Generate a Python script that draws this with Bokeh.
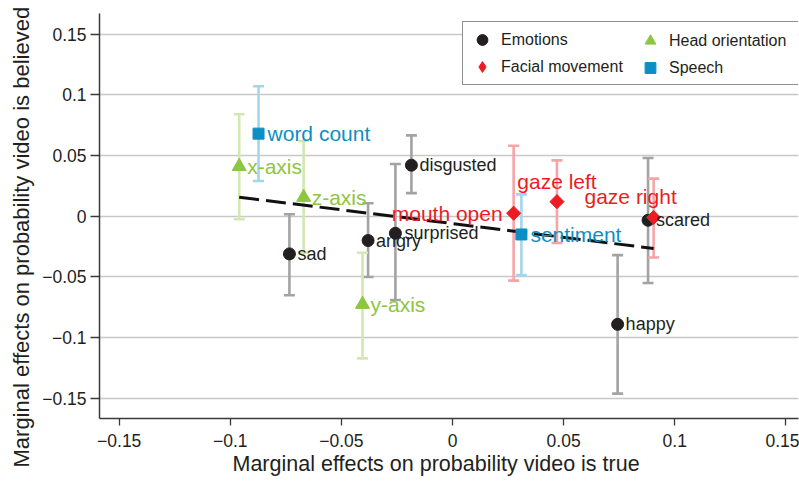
import numpy as np
from bokeh.plotting import figure
from bokeh.models import (ColumnDataSource, Whisker, TeeHead, FixedTicker, CustomJSTickFormatter,
                          Legend, LegendItem, Title)
from bokeh.core.properties import value
from bokeh.embed import file_html
from bokeh.resources import INLINE

# ---------------- data ----------------
emo_names = ["sad", "angry", "surprised", "disgusted", "happy", "scared"]
emo_true = [-0.0734, -0.038, -0.0257, -0.0185, 0.0743, 0.088]
emo_believed = [-0.031, -0.020, -0.014, 0.042, -0.089, -0.0033]
emo_lo = [-0.065, -0.050, -0.069, 0.019, -0.146, -0.055]
emo_hi = [0.0016, 0.0107, 0.043, 0.0666, -0.032, 0.048]

fac_names = ["mouth open", "gaze left", "gaze right"]
fac_true = [0.0275, 0.047, 0.0905]
fac_believed = [0.0025, 0.012, -0.001]
fac_lo = [-0.053, -0.022, -0.034]
fac_hi = [0.058, 0.046, 0.031]

head_names = ["x-axis", "z-axis", "y-axis"]
head_true = [-0.096, -0.067, -0.0405]
head_believed = [0.041, 0.0156, -0.0725]
head_lo = [-0.0025, -0.030, -0.117]
head_hi = [0.084, 0.062, -0.030]

sp_names = ["word count", "sentiment"]
sp_true = [-0.0873, 0.031]
sp_believed = [0.068, -0.015]
sp_lo = [0.029, -0.0485]
sp_hi = [0.107, 0.018]

ticks = [-0.15, -0.1, -0.05, 0, 0.05, 0.1, 0.15]
x_title = "Marginal effects on probability video is true"
y_title = "Marginal effects on probability video is believed"

# label placement (styles, pixels)
emo_dx = [8, 8, 9, 8, 8, 8]; emo_dy = [0, 0, 0, 0, 0, 0]; emo_align = ["left"] * 6
fac_dx = [-11, 0, -23]; fac_dy = [0, -20, -21]; fac_align = ["right", "center", "center"]
head_dx = [8, 8, 8]; head_dy = [0, 0, 0]; head_align = ["left"] * 3
sp_dx = [9, 9]; sp_dy = [0, 0]; sp_align = ["left"] * 2

FONT_NAME = "Liberation Sans"
FONT = value(FONT_NAME)
BLACK = "#231f20"; RED = "#ed1c24"; GREEN = "#8dc63f"; BLUE = "#0b8fc4"
GRAY_BAR = "#a3a3a3"; RED_BAR = "#f5a5a8"; GREEN_BAR = "#d3e7b1"; BLUE_BAR = "#a3d6ea"

p = figure(width=799, height=481, x_range=(-0.15887, 0.1557), y_range=(-0.1665, 0.1669),
           output_backend="svg", toolbar_location=None,
           min_border_left=99, min_border_right=1, min_border_top=13, min_border_bottom=63)
p.outline_line_color = None
p.background_fill_color = "white"

def make_src(xs, ys, lo, hi, names, dx, dy, align):
    return ColumnDataSource(dict(x=xs, y=ys, lo=lo, hi=hi, name=names, dx=dx, dy=dy, align=align))

groups = [
    ("Emotions", make_src(emo_true, emo_believed, emo_lo, emo_hi, emo_names, emo_dx, emo_dy, emo_align),
     BLACK, GRAY_BAR, "circle", 12, 0.0, "18px", "circle"),
    ("Head orientation", make_src(head_true, head_believed, head_lo, head_hi, head_names, head_dx, head_dy, head_align),
     GREEN, GREEN_BAR, "triangle", 14, 0.0, "21px", "triangle"),
    ("Facial movement", make_src(fac_true, fac_believed, fac_lo, fac_hi, fac_names, fac_dx, fac_dy, fac_align),
     RED, RED_BAR, "square", 10, np.pi / 4, "21px", "diamond"),
    ("Speech", make_src(sp_true, sp_believed, sp_lo, sp_hi, sp_names, sp_dx, sp_dy, sp_align),
     BLUE, BLUE_BAR, "square", 11, 0.0, "21px", "square"),
]

# error bars
for name, src, col, bcol, marker, size, ang, fs, lm in groups:
    w = Whisker(source=src, base="x", lower="lo", upper="hi", dimension="height",
                line_color=bcol, line_width=2.6,
                upper_head=TeeHead(size=11, line_color=bcol, line_width=2.6),
                lower_head=TeeHead(size=11, line_color=bcol, line_width=2.6),
                level="underlay")
    p.add_layout(w)

# OLS fit line over all points
all_x = np.array(emo_true + fac_true + head_true + sp_true)
all_y = np.array(emo_believed + fac_believed + head_believed + sp_believed)
slope, icpt = np.polyfit(all_x, all_y, 1)
fx = [all_x.min(), all_x.max()]
fy = [icpt + slope * v for v in fx]
p.line(fx, fy, line_color="#111111", line_width=3, line_dash="20 7")

# markers
legend_r = {}
for name, src, col, bcol, marker, size, ang, fs, lm in groups:
    p.scatter("x", "y", source=src, marker=marker, size=size, angle=ang,
              fill_color=col, line_color=col)
    # legend-only renderer: a single undefined (NaN) point that is never drawn
    legend_r[name] = p.scatter(x=[np.nan], y=[np.nan], marker=lm, size=size,
                               fill_color=col, line_color=col)

# labels
for name, src, col, bcol, marker, size, ang, fs, lm in groups:
    p.text("x", "y", text="name", source=src, x_offset="dx", y_offset="dy",
           text_align="align", text_baseline="middle", text_font=FONT,
           text_font_size=fs, text_color=col)

# axes
fmt = CustomJSTickFormatter(code="""
const r = Math.round(tick*100)/100;
if (r === 0) return "0";
return (r < 0 ? "\\u2212" : "") + Math.abs(r).toString();
""")
for ax in (p.xaxis[0], p.yaxis[0]):
    ax.ticker = FixedTicker(ticks=ticks)
    ax.formatter = fmt
    ax.axis_line_color = "#3a3a3a"
    ax.axis_line_width = 1.5
    ax.major_tick_line_color = "#3a3a3a"
    ax.major_tick_line_width = 1.3
    ax.major_tick_in = 0
    ax.minor_tick_line_color = None
    ax.major_label_text_font = FONT_NAME
    ax.major_label_text_font_size = "17.5px"
    ax.major_label_text_color = BLACK
p.xaxis.major_tick_out = 7
p.xaxis.major_label_standoff = 8
p.yaxis.major_tick_out = 9
p.yaxis.major_label_standoff = 4

# axis titles
p.add_layout(Title(text=x_title, align="left", offset=133, standoff=1,
                   text_font=FONT_NAME, text_font_size="21.5px", text_font_style="normal",
                   text_color=BLACK), "below")
p.add_layout(Title(text=y_title, align="left", offset=-49, standoff=12,
                   text_font=FONT_NAME, text_font_size="22px", text_font_style="normal",
                   text_color=BLACK), "left")

p.xgrid.visible = False
p.ygrid.grid_line_color = "#c8c8c8"
p.ygrid.grid_line_width = 1.3

def style_legend(leg):
    leg.label_text_font = FONT_NAME
    leg.label_text_font_size = "16px"
    leg.label_text_color = BLACK
    leg.glyph_width = 30
    leg.glyph_height = 27
    leg.label_standoff = 4
    leg.padding = 4
    leg.spacing = 0
    leg.margin = 0

leg_a = Legend(items=[LegendItem(label="Emotions", renderers=[legend_r["Emotions"]]),
                      LegendItem(label="Facial movement", renderers=[legend_r["Facial movement"]])],
               location=(363, 333))
style_legend(leg_a)
leg_a.label_width = 294
leg_a.border_line_color = "#231f20"
leg_a.border_line_width = 1.2
leg_a.background_fill_color = "white"
leg_a.background_fill_alpha = 1.0

leg_b = Legend(items=[LegendItem(label="Head orientation", renderers=[legend_r["Head orientation"]]),
                      LegendItem(label="Speech", renderers=[legend_r["Speech"]])],
               location=(536, 337))
style_legend(leg_b)
leg_b.border_line_color = None
leg_b.background_fill_alpha = 0.0

p.add_layout(leg_a, "center")
p.add_layout(leg_b, "center")

open("out.html", "w").write(file_html(p, INLINE))
